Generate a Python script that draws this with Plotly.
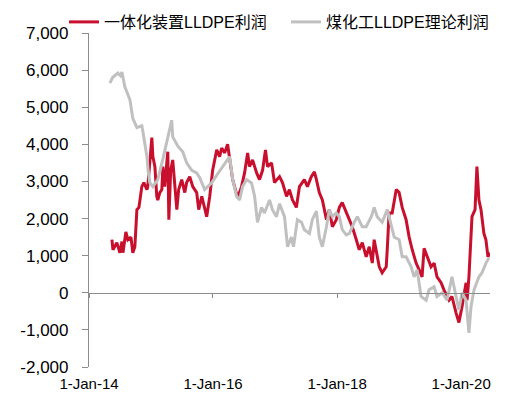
import plotly.graph_objects as go

series_names = ["一体化装置LLDPE利润", "煤化工LLDPE理论利润"]

red_dates = ["2014-05-16","2014-05-22","2014-06-14","2014-07-02","2014-07-14","2014-07-20","2014-08-06","2014-08-18","2014-09-05","2014-09-16","2014-09-28","2014-10-10","2014-10-22","2014-11-08","2014-11-20","2014-12-08","2014-12-13","2014-12-25","2015-01-06","2015-01-12","2015-01-24","2015-02-04","2015-02-10","2015-02-22","2015-03-06","2015-03-12","2015-03-23","2015-04-04","2015-04-10","2015-04-16","2015-04-27","2015-05-09","2015-05-21","2015-06-02","2015-06-13","2015-07-01","2015-07-19","2015-07-30","2015-08-17","2015-09-04","2015-09-27","2015-10-09","2015-10-27","2015-11-13","2015-11-25","2015-12-13","2015-12-30","2016-01-23","2016-02-09","2016-02-21","2016-03-10","2016-03-27","2016-04-08","2016-04-26","2016-05-25","2016-06-17","2016-07-05","2016-07-23","2016-08-03","2016-08-21","2016-09-14","2016-10-01","2016-10-19","2016-11-05","2016-11-17","2016-12-11","2016-12-28","2017-01-27","2017-02-13","2017-03-09","2017-03-26","2017-04-13","2017-05-06","2017-05-24","2017-06-22","2017-07-10","2017-08-02","2017-08-20","2017-09-01","2017-09-18","2017-10-06","2017-10-30","2017-11-16","2017-12-04","2017-12-27","2018-01-14","2018-01-31","2018-02-24","2018-03-14","2018-03-31","2018-04-24","2018-05-11","2018-05-29","2018-06-21","2018-07-09","2018-07-27","2018-08-07","2018-08-19","2018-09-06","2018-09-23","2018-10-17","2018-10-23","2018-11-03","2018-11-21","2018-12-15","2019-01-01","2019-01-19","2019-02-11","2019-03-01","2019-03-19","2019-04-11","2019-04-29","2019-05-16","2019-05-28","2019-06-15","2019-07-08","2019-07-26","2019-08-12","2019-09-05","2019-09-22","2019-10-22","2019-11-08","2019-12-02","2019-12-19","2020-01-06","2020-01-30","2020-02-05","2020-02-16","2020-03-05","2020-03-23","2020-04-03","2020-04-15","2020-04-27","2020-05-14","2020-05-26","2020-06-07","2020-06-19"]
red_values = [1430,1160,1350,1080,1380,1080,1640,1430,1500,1080,1240,2240,2300,2860,2970,2780,2860,3580,4180,3670,3400,2600,2500,2700,2780,3400,2860,3500,3800,1970,3300,3580,2860,2240,2780,3050,2700,2970,3130,2860,2700,2240,2600,2300,2050,2600,3300,3850,3670,3900,3770,4000,3580,3050,2560,2860,3230,3770,3400,3580,3230,3050,3300,3850,3400,3500,2970,3130,2970,2600,2780,2500,2300,2860,3050,2860,3130,3260,3050,2700,2500,1970,2240,1780,1970,2300,2430,2150,1970,1780,1430,1160,1350,970,1240,800,1430,1160,700,540,700,1160,2150,2150,2780,2700,2300,1970,1500,1160,800,620,430,1200,970,700,800,430,270,80,-200,-100,-540,-800,-380,270,-200,430,2050,2240,3400,2500,2240,1600,1430,970,1080]

gray_dates = ["2014-05-04","2014-05-20","2014-06-20","2014-07-05","2014-07-14","2014-07-31","2014-08-30","2014-09-16","2014-10-10","2014-11-08","2014-11-14","2014-12-08","2014-12-15","2014-12-25","2015-01-12","2015-02-10","2015-03-12","2015-04-04","2015-05-03","2015-05-09","2015-06-08","2015-07-07","2015-07-30","2015-08-29","2015-09-27","2015-10-15","2015-11-13","2015-12-01","2015-12-24","2016-01-28","2016-03-10","2016-04-08","2016-04-26","2016-05-19","2016-06-06","2016-06-23","2016-07-17","2016-08-15","2016-09-02","2016-09-19","2016-10-13","2016-10-30","2016-11-29","2016-12-16","2017-01-09","2017-01-27","2017-02-25","2017-03-15","2017-04-07","2017-04-19","2017-05-12","2017-06-05","2017-06-22","2017-07-22","2017-08-08","2017-09-01","2017-09-18","2017-10-06","2017-10-30","2017-11-16","2017-12-04","2017-12-27","2018-01-14","2018-01-31","2018-02-24","2018-03-14","2018-04-12","2018-04-30","2018-05-29","2018-06-21","2018-07-21","2018-08-07","2018-08-25","2018-09-23","2018-10-23","2018-11-15","2018-12-03","2019-01-01","2019-01-19","2019-02-11","2019-03-13","2019-03-30","2019-04-17","2019-05-10","2019-06-09","2019-06-26","2019-07-26","2019-08-12","2019-09-11","2019-10-10","2019-11-08","2019-12-02","2019-12-19","2020-01-06","2020-01-30","2020-02-16","2020-02-28","2020-03-17","2020-04-15","2020-05-03","2020-05-26","2020-06-13"]
gray_values = [5650,5800,5920,5850,5950,5550,5200,4700,4450,4500,4350,3670,3300,2970,2860,3050,3600,4100,4650,4200,3950,3800,3500,3300,3230,3100,2780,2860,2960,3200,3500,3670,3050,2600,2500,2860,3050,2960,2600,1900,2300,2150,2500,2240,2050,2400,2050,1240,1500,1240,1970,1900,1700,1600,1970,2200,1500,1240,1780,2240,2050,2150,2050,1700,1560,1600,1900,2050,1780,1780,2050,2300,2050,1900,2240,1780,1500,1430,970,970,700,430,620,-100,-200,80,160,-100,0,-200,430,-100,-460,0,-200,-1080,-380,80,430,540,800,940]

x_tick_vals = ["2014-01-01", "2016-01-01", "2018-01-01", "2020-01-01"]
x_tick_text = ["1-Jan-14", "1-Jan-16", "1-Jan-18", "1-Jan-20"]
y_tick_vals = [-2000, -1000, 0, 1000, 2000, 3000, 4000, 5000, 6000, 7000]
y_tick_text = ["-2,000", "-1,000", "0", "1,000", "2,000", "3,000", "4,000", "5,000", "6,000", "7,000"]

RED = "#C8102E"
GRAY = "#C0C0C0"
AXIS = "#8C8C8C"
FONT = "Liberation Sans, Arial, Noto Sans CJK SC, sans-serif"

W, H = 522, 395

fig = go.Figure()
fig.add_trace(go.Scatter(x=red_dates, y=red_values, mode="lines", name=series_names[0],
                         line=dict(color=RED, width=3), legend="legend"))
fig.add_trace(go.Scatter(x=gray_dates, y=gray_values, mode="lines", name=series_names[1],
                         line=dict(color=GRAY, width=3), xaxis="x2", legend="legend2"))

x_range = ["2014-01-01", "2020-06-19"]
y_min, y_max = -2000, 7000

legend_common = dict(orientation="h", xref="container", yref="container",
                     xanchor="left", y=1 - 22 / H, yanchor="middle",
                     font=dict(size=16), bgcolor="rgba(0,0,0,0)")

fig.update_layout(
    width=W, height=H,
    margin=dict(l=89, r=32, t=33, b=28, autoexpand=False),
    paper_bgcolor="white", plot_bgcolor="white",
    font=dict(family=FONT, size=16, color="#000000"),
    showlegend=True,
    legend=dict(x=64 / W, **legend_common),
    legend2=dict(x=286 / W, **legend_common),
    xaxis=dict(type="date", range=x_range, tickvals=x_tick_vals, ticktext=x_tick_text,
               showgrid=False, zeroline=False, showline=False, ticks="",
               ticklabelstandoff=6, tickfont=dict(size=15)),
    xaxis2=dict(type="date", matches="x", overlaying="x", anchor="free",
                position=(0 - y_min) / (y_max - y_min), side="bottom",
                tickvals=x_tick_vals, showticklabels=False, showgrid=False, zeroline=False,
                showline=True, linecolor=AXIS, linewidth=1.2,
                ticks="outside", ticklen=4, tickcolor=AXIS, tickwidth=1),
    yaxis=dict(range=[y_min, y_max], tickvals=y_tick_vals, ticktext=y_tick_text,
               showgrid=False, zeroline=False, showline=True, linecolor=AXIS, linewidth=1.2,
               ticks="outside", ticklen=6, tickcolor=AXIS, ticklabelstandoff=10,
               tickfont=dict(size=17)),
)

fig.write_html("out.html", config={"displayModeBar": False},
               post_script="document.body.style.margin='0';document.body.style.overflow='hidden';")
